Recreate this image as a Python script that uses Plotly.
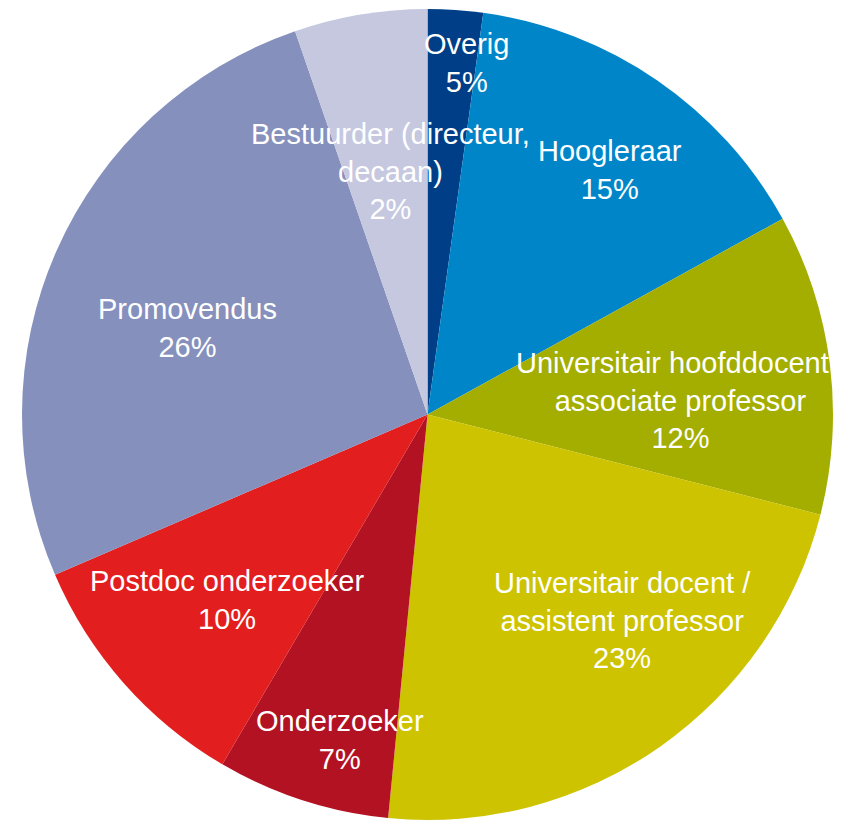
import plotly.graph_objects as go

# Functiecategorieën (met de klok mee vanaf 12 uur)
categorieen = ['Overig', 'Hoogleraar', 'Universitair hoofddocent', 'Universitair docent',
               'Onderzoeker', 'Postdoc onderzoeker', 'Promovendus', 'Bestuurder']
aandeel = [2.2, 14.8, 12.0, 22.6, 6.9, 10.1, 26.2, 5.3]
kleuren = ['#003f87', '#0086c8', '#a3ae00', '#cdc300', '#b31222', '#e31e1e', '#8590bd', '#c5c8df']

# Labels zoals in de grafiek getoond
label_teksten = ['Overig<br>5%',
                 'Hoogleraar<br>15%',
                 'Universitair hoofddocent /<br>associate professor<br>12%',
                 'Universitair docent /<br>assistent professor<br>23%',
                 'Onderzoeker<br>7%',
                 'Postdoc onderzoeker<br>10%',
                 'Promovendus<br>26%',
                 'Bestuurder (directeur,<br>decaan)<br>2%']

W, H = 852, 821
OFF = 8  # marge van de html-body
# middelpunt van elk label in pixels (handmatig geplaatst, zoals in het origineel)
label_pos = [(467, 63), (610, 170), (681, 400), (622, 620),
             (340, 740), (227, 600), (187, 328), (390, 171)]

fig = go.Figure(go.Pie(
    labels=categorieen,
    values=aandeel,
    marker=dict(colors=kleuren, line=dict(width=0)),
    sort=False,
    direction='clockwise',
    rotation=0,
    textinfo='none',
    hoverinfo='label+percent',
    domain=dict(x=[(21 - OFF) / W, (834 - OFF) / W],
                y=[1 - (820 - OFF) / H, 1 - (9 - OFF) / H]),
))

annotations = []
for tekst, (px, py) in zip(label_teksten, label_pos):
    annotations.append(dict(
        text=tekst, xref='paper', yref='paper',
        x=(px - OFF) / W, y=1 - (py - OFF) / H,
        xanchor='center', yanchor='middle',
        showarrow=False, align='center',
        font=dict(family='Liberation Sans, Arial, sans-serif', size=29, color='white'),
    ))

fig.update_layout(
    width=W, height=H,
    margin=dict(l=0, r=0, t=0, b=0),
    paper_bgcolor='white',
    showlegend=False,
    annotations=annotations,
)

fig.write_html('out.html')
